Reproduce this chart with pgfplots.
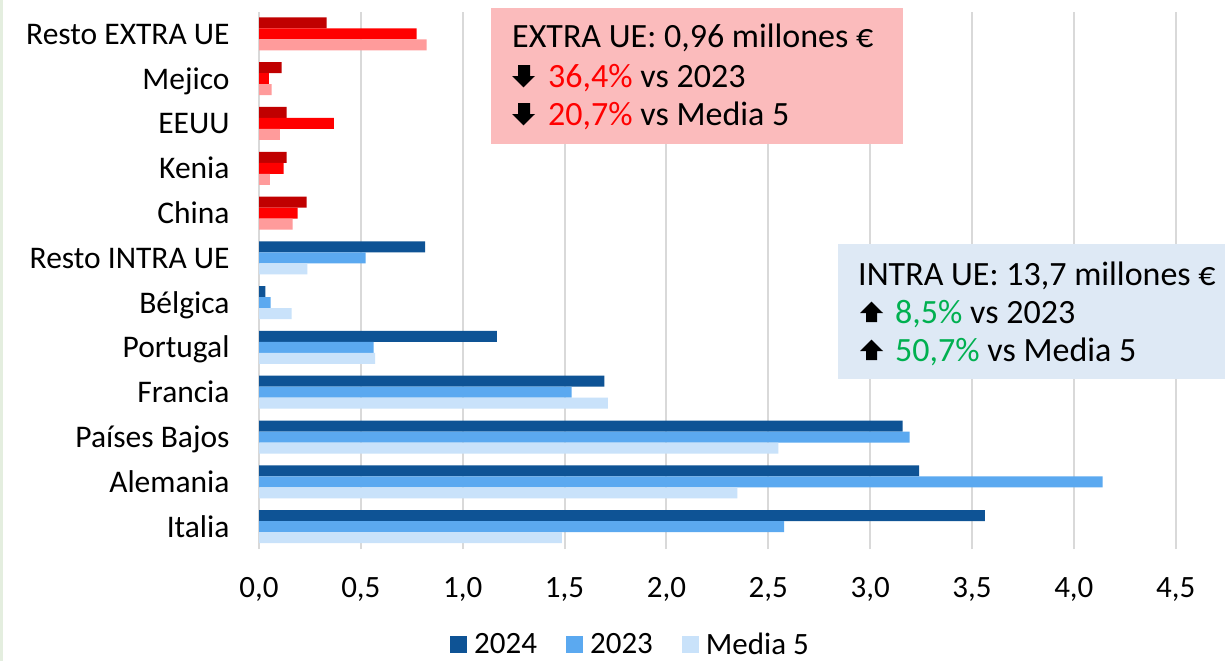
\documentclass[border=0pt]{standalone}
\usepackage{fontspec}
\setmainfont{Carlito}
\usepackage{pgfplots}
\pgfplotsset{compat=1.18}
\definecolor{cA}{HTML}{0E5395}
\definecolor{cB}{HTML}{5BA9F0}
\definecolor{cC}{HTML}{C9E2FA}
\definecolor{rA}{HTML}{C00000}
\definecolor{rB}{HTML}{FF0000}
\definecolor{rC}{HTML}{FF9B9B}
\definecolor{boxR}{HTML}{FBBBBC}
\definecolor{boxB}{HTML}{DEE9F5}
\definecolor{gridc}{HTML}{D9D9D9}
\definecolor{grn}{HTML}{00B050}
\definecolor{strip}{HTML}{E4EEDF}
\begin{document}
\begin{tikzpicture}[x=1pt,y=-1pt]
\path[use as bounding box] (0,0) rectangle (1225,661);
\fill[white] (0,0) rectangle (1225,661);
\fill[strip] (0,0) rectangle (3,661);
\begin{axis}[
  at={(259pt,-549pt)}, anchor=south west,
  scale only axis, width=916.7pt, height=537.5pt,
  xmin=0, xmax=4.5, ymin=-0.5, ymax=11.5,
  xbar, bar width=11pt,
  axis line style={draw=none}, major tick style={draw=none},
  xmajorgrids, major grid style={gridc, line width=2pt},
  xtick={0,0.5,1,1.5,2,2.5,3,3.5,4,4.5},
  ytick={0,1,2,3,4,5,6,7,8,9,10,11},
  yticklabels={Italia,Alemania,Países Bajos,Francia,Portugal,Bélgica,Resto INTRA UE,China,Kenia,EEUU,Mejico,Resto EXTRA UE},
  /pgf/number format/fixed, /pgf/number format/fixed zerofill,
  /pgf/number format/precision=1, /pgf/number format/use comma,
  /pgf/number format/assume math mode=true,
  xticklabel style={font=\fontsize{31}{36}\selectfont, inner sep=0pt, anchor=base, yshift=-48pt},
  yticklabel style={font=\fontsize{31.5}{36}\selectfont, inner sep=0pt, anchor=base east, xshift=-25pt, yshift=-10.5pt},
  legend style={at={(0.2084,-0.1775)}, anchor=west, draw=none, fill=none, inner sep=0pt,
    legend columns=3, font=\fontsize{31}{36}\selectfont,
    nodes={inner sep=0pt},
    /tikz/every even column/.append style={column sep=29pt},
    /tikz/every odd column/.append style={column sep=7pt}},
  legend image code/.code={\fill[#1, draw=none] (0pt,-8.5pt) rectangle (17pt,8.5pt);},
]
\addplot[fill=cA, draw=none, bar shift=11pt] coordinates {(3.563,0) (3.241,1) (3.159,2) (1.695,3) (1.168,4) (0.031,5) (0.815,6)};
\addplot[fill=cB, draw=none, bar shift=0pt] coordinates {(2.578,0) (4.141,1) (3.194,2) (1.535,3) (0.563,4) (0.057,5) (0.524,6)};
\addplot[fill=cC, draw=none, bar shift=-11pt] coordinates {(1.487,0) (2.348,1) (2.550,2) (1.712,3) (0.570,4) (0.160,5) (0.237,6)};
\addplot[fill=rA, draw=none, bar shift=11pt, forget plot] coordinates {(0.234,7) (0.136,8) (0.136,9) (0.111,10) (0.332,11)};
\addplot[fill=rB, draw=none, bar shift=0pt, forget plot] coordinates {(0.190,7) (0.121,8) (0.367,9) (0.048,10) (0.774,11)};
\addplot[fill=rC, draw=none, bar shift=-11pt, forget plot] coordinates {(0.165,7) (0.053,8) (0.102,9) (0.062,10) (0.823,11)};
\legend{2024,2023,Media 5}
\end{axis}
% EXTRA UE box
\fill[boxR] (491,8) rectangle (903,144);
\node[anchor=base west, inner sep=0pt, font=\fontsize{34}{40}\selectfont] at (512,48) {EXTRA UE: 0,96 millones €};
\fill[black] (518,65) -- (530,65) -- (530,76) -- (535,76) -- (523.5,87.3) -- (512,76) -- (518,76) -- cycle;
\node[anchor=base west, inner sep=0pt, font=\fontsize{34}{40}\selectfont] at (548,87) {\textcolor{rB}{36,4\%} vs 2023};
\fill[black] (518,103) -- (530,103) -- (530,114) -- (535,114) -- (523.5,125.3) -- (512,114) -- (518,114) -- cycle;
\node[anchor=base west, inner sep=0pt, font=\fontsize{34}{40}\selectfont] at (548,125) {\textcolor{rB}{20,7\%} vs Media 5};
% INTRA UE box
\fill[boxB] (838,244) rectangle (1225,379);
\node[anchor=base west, inner sep=0pt, font=\fontsize{34}{40}\selectfont] at (858,285) {INTRA UE: 13,7 millones €};
\fill[black] (871.5,301.7) -- (883,313) -- (877,313) -- (877,322) -- (866,322) -- (866,313) -- (860,313) -- cycle;
\node[anchor=base west, inner sep=0pt, font=\fontsize{34}{40}\selectfont] at (895,323) {\textcolor{grn}{8,5\%} vs 2023};
\fill[black] (871.5,339.7) -- (883,351) -- (877,351) -- (877,360) -- (866,360) -- (866,351) -- (860,351) -- cycle;
\node[anchor=base west, inner sep=0pt, font=\fontsize{34}{40}\selectfont] at (895,361) {\textcolor{grn}{50,7\%} vs Media 5};
\end{tikzpicture}
\end{document}
